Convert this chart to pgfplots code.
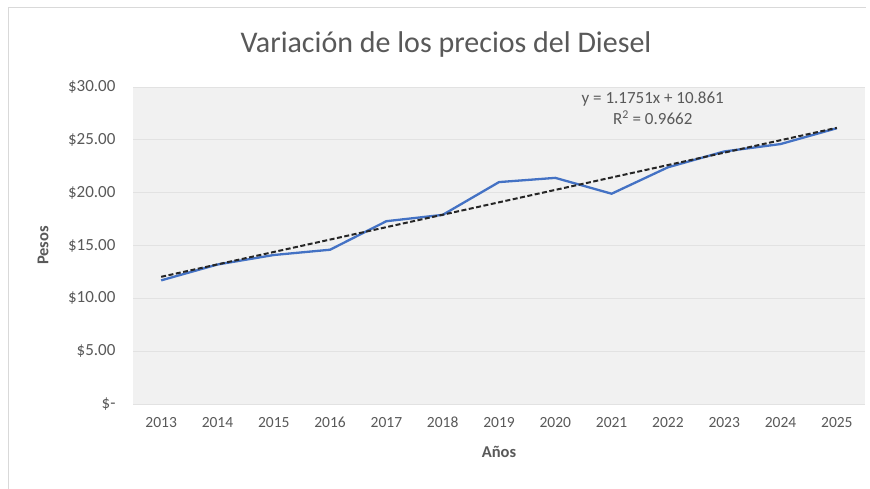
\documentclass[border=0pt]{standalone}
\usepackage{pgfplots}
\pgfplotsset{compat=1.18}
\usepackage{fontspec}
\setmainfont{Carlito}
\definecolor{txt}{HTML}{595959}
\definecolor{ser}{HTML}{4472C4}
\definecolor{bg}{HTML}{F1F1F1}
\definecolor{gr}{HTML}{E2E2E2}
\pgfplotstableread{
x y
1 11.7
2 13.2
3 14.1
4 14.6
5 17.3
6 17.9
7 21.0
8 21.4
9 19.9
10 22.4
11 23.9
12 24.6
13 26.1
}\diesel
\begin{document}
\begin{tikzpicture}[x=1pt,y=1pt]
\useasboundingbox (0,0) rectangle (870,489);
\fill[white] (0,0) rectangle (870,489);
\draw[black!15, line width=1pt] (8,0) -- (8,481) -- (866,481);
\node[txt, font=\fontsize{30}{36}\selectfont] at (446,444) {Variación de los precios del Diesel};
\begin{axis}[
  at={(133pt,85pt)}, anchor=south west,
  scale only axis, width=732pt, height=317pt,
  xmin=0.5, xmax=13.5, ymin=0, ymax=30,
  xtick={1,...,13},
  xticklabels={2013,2014,2015,2016,2017,2018,2019,2020,2021,2022,2023,2024,2025},
  ytick={0,5,10,15,20,25,30},
  yticklabels={\$-,\$5.00,\$10.00,\$15.00,\$20.00,\$25.00,\$30.00},
  ymajorgrids, grid style={gr, line width=0.8pt},
  axis background/.style={fill=bg},
  axis line style={draw=none},
  major tick length=0pt,
  tick label style={txt},
  xticklabel style={font=\fontsize{15.5}{18}\selectfont, text height=11pt, text depth=0pt, yshift=-9pt},
  yticklabel style={font=\fontsize{17}{20}\selectfont, xshift=-14pt},
  xlabel={\textbf{Años}}, ylabel={\textbf{Pesos}},
  label style={txt, font=\fontsize{16.5}{20}\selectfont},
  xlabel style={at={(axis description cs:0.5,-0.151)}, anchor=center},
  ylabel style={at={(axis description cs:-0.123,0.5)}, anchor=center},
  clip=false,
]
\addplot[ser, line width=2.3pt, line join=round] table[x=x,y=y]{\diesel};
\addplot[black!85, line width=2pt, dash pattern=on 5pt off 2.5pt] coordinates {(1,12.036) (13,26.137)};
\node[txt, align=center, font=\fontsize{17}{21}\selectfont] at (axis cs:9.73,27.95) {y = 1.1751x + 10.861\\R\textsuperscript{2} = 0.9662};
\end{axis}
\end{tikzpicture}
\end{document}
